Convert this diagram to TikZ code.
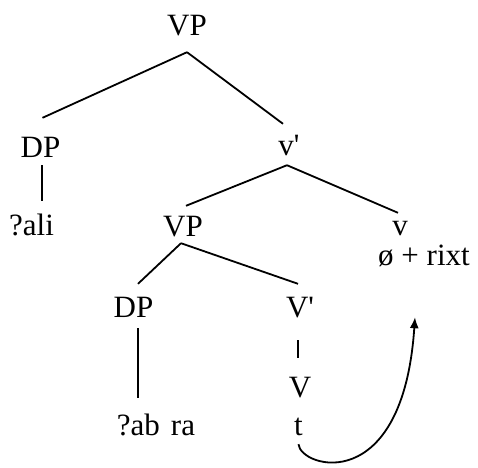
\documentclass[tikz,border=0pt]{standalone}
\usepackage{fontspec}
\setmainfont{Liberation Serif}
\usetikzlibrary{arrows, arrows.meta}
\usetikzlibrary{positioning}
\usetikzlibrary{calc}
\begin{document}
\begin{tikzpicture}[x=1pt, y=-1pt,
		lab/.style={anchor=base, inner sep=0pt, text height=20pt, text depth=0pt, font=\fontsize{31}{36}\selectfont},
		branch/.style={line width=1.8pt}]
					\useasboundingbox (0,0) rectangle (478,467);
					%labels
					\node[lab] (VP) at (187,35) {VP};
					\node[lab] (DP) at (40.5,157) {DP};
					\node[lab] (vbar) at (289,155) {v\textquotesingle};
					\node[lab] (ali) at (31.5,235) {?ali};
					\node[lab] (VPlow) at (183,236) {VP};
					\node[lab] (vsmall) at (400,235) {v};
					\node[lab] (rixt) at (424,265) {ø + rixt};
					\node[lab] (DPlow) at (133.5,317) {DP};
					\node[lab] (Vbar) at (300,317) {V\textquotesingle};
					\node[lab] (V) at (300,397) {V};
					\node[lab] (abra) at (156,435) {?ab\hspace{11pt}ra};
					\node[lab] (t) at (298.5,435) {t};
					
					% branches
					\draw[branch] ($(VP.south)+(0,17)$) -- ($(DP.north)+(2,-19)$);
					\draw[branch] ($(VP.south)+(0,17)$) -- ($(vbar.north)+(-6,-11)$);
					\draw[branch] ($(DP.south)+(1.5,8)$) -- ($(DP.south |- ali.north)+(1.5,-14)$);
					\draw[branch] ($(vbar.south)+(-2,10)$) -- ($(VPlow.north)+(3,-10)$);
					\draw[branch] ($(vbar.south)+(-2,10)$) -- ($(vsmall.north)+(-2,-2)$);
					\draw[branch] ($(VPlow.south)+(-2,7)$) -- ($(DPlow.north)+(4.5,-13)$);
					\draw[branch] ($(VPlow.south)+(-2,7)$) -- ($(Vbar.north)+(-2,-13)$);
					\draw[branch] ($(DPlow.south)+(4.5,11)$) -- ($(DPlow.south |- abra.north)+(4.5,-17)$);
					\draw[branch] ($(Vbar.south)+(-2,23)$) -- ($(V.north)+(-2,-19)$);
					
					% add arrow
					\draw[branch, -{Latex[length=11pt, width=9pt]}] ($(t.south)+(0,9)$) .. controls +(2,24) and +(-12,180) .. ($(rixt.south)+(-9,52)$);
				\end{tikzpicture}
\end{document}
